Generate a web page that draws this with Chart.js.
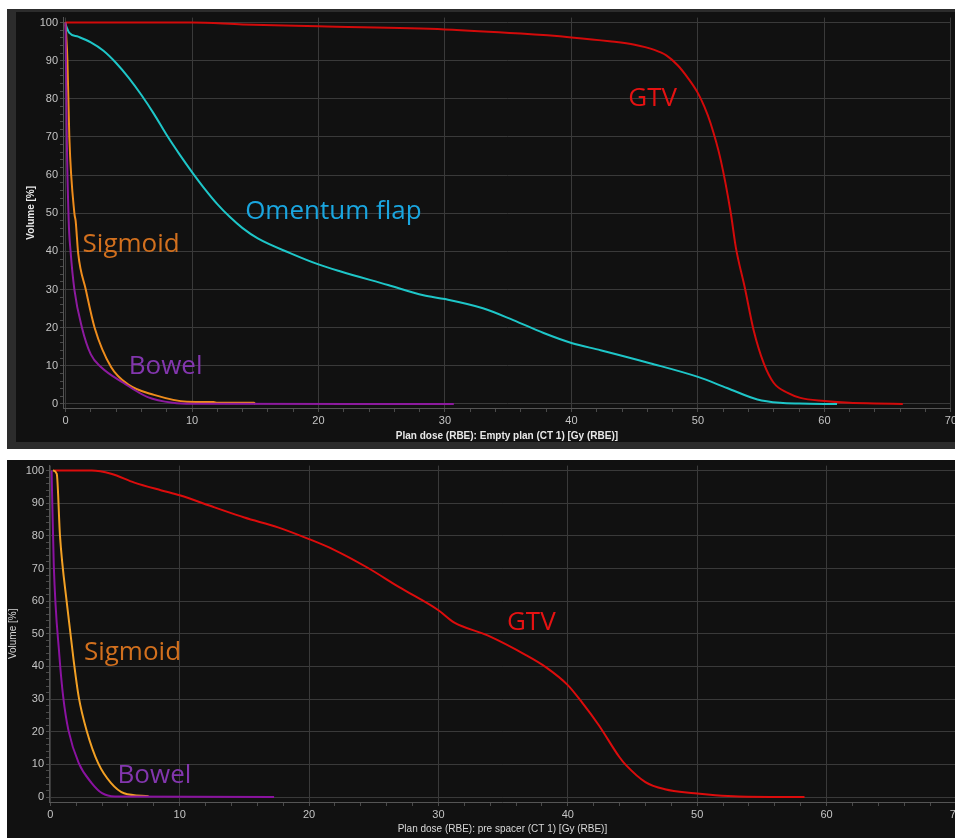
<!DOCTYPE html>
<html>
<head>
<meta charset="utf-8">
<script src="https://cdn.jsdelivr.net/npm/chart.js@4.4.0/dist/chart.umd.min.js"></script>
<style>
  html, body { margin: 0; padding: 0; background: #fff; width: 955px; height: 838px; overflow: hidden; }
  #topFrame { position: absolute; left: 7px; top: 9px; width: 948px; height: 440px; background: #2c2c2c; }
  #topWrap { position: absolute; left: 16px; top: 12px; width: 939px; height: 430px; background: #111; overflow: hidden; }
  #botWrap { position: absolute; left: 7px; top: 460px; width: 948px; height: 378px; background: #111; overflow: hidden; }
  canvas { display: block; margin-top: -3px; }
</style>
</head>
<body>
<div id="topFrame"></div>
<div id="topWrap"><canvas id="topChart" width="943" height="433"></canvas></div>
<div id="botWrap"><canvas id="botChart" width="957" height="381"></canvas></div>
<script>
// tick labels
const doseTicks = [0, 10, 20, 30, 40, 50, 60, 70];
const volumeTicks = [0, 10, 20, 30, 40, 50, 60, 70, 80, 90, 100];

// top plot: Empty plan
const topGtvDose = [0, 10, 14, 20, 30, 36, 40, 43, 45, 46.5, 47.5, 48.4, 49.2, 50, 50.5, 51, 51.8, 52.6, 53, 53.7, 54.4, 55.2, 56, 57.1, 58.1, 60, 62, 64, 66.2];
const topGtvVol = [100, 100, 99.5, 99, 98.2, 97.1, 96.1, 95.1, 94.2, 92.9, 91.4, 88.8, 85.5, 81.5, 78, 73.6, 64, 50, 41, 30.6, 19.4, 10.7, 5.5, 2.9, 1.6, 0.8, 0.3, 0.15, 0];

const topOmentumDose = [0, 0.3, 1, 2, 3, 4, 5, 6, 7, 8, 9, 10, 11, 12, 13, 14, 15.2, 17.8, 20, 21.7, 25.5, 28.3, 30, 33, 35.4, 37.8, 40, 42.3, 46.2, 50, 52.3, 54.7, 56.5, 58, 61];
const topOmentumVol = [99.5, 97.3, 96.3, 94.8, 92.6, 89.4, 85.5, 81, 76, 70.5, 65.5, 60.8, 56.4, 52.4, 49, 46.1, 43.4, 39.5, 36.6, 34.8, 31.2, 28.5, 27.5, 25.1, 22, 18.6, 16, 14.1, 10.7, 7.1, 4.2, 1.2, 0.3, 0.1, 0];

const topSigmoidDose = [0, 0.15, 0.3, 0.7, 0.8, 1.0, 1.6, 2.3, 3.6, 5, 7, 9.6, 11.7, 12, 14.9, 15];
const topSigmoidVol = [100, 90, 70, 50, 48, 39.5, 30, 20, 9.7, 5, 2.4, 0.6, 0.5, 0.3, 0.3, 0];

const topBowelDose = [0, 0.1, 0.25, 0.4, 0.7, 1.3, 2, 2.8, 4.6, 6.5, 8.5, 10, 30.7];
const topBowelVol = [100, 70, 48, 40, 30, 20, 13, 9.7, 5.5, 1.8, 0.3, 0.05, 0];

// bottom plot: pre spacer
const botGtvDose = [0.3, 3.2, 4.7, 6.5, 8.6, 10, 12.7, 15, 17.6, 20, 21.9, 24.5, 27, 30, 31.2, 33.8, 36.8, 38.3, 40, 41.1, 42.4, 44, 44.5, 46, 47.5, 49.8, 51.4, 53.2, 58.3];
const botGtvVol = [100, 100, 99, 96.3, 93.9, 92.4, 88.7, 85.6, 82.6, 79, 75.8, 70.3, 64.2, 57.2, 53.5, 49.5, 43.4, 39.8, 34.3, 29, 22, 12.2, 9.8, 4.6, 2.4, 1.2, 0.6, 0.2, 0];

const botSigmoidDose = [0.2, 0.5, 0.75, 1.3, 1.8, 2.2, 2.8, 3.7, 4.7, 5.7, 7.6];
const botSigmoidVol = [100, 99, 80, 58.7, 42, 30.6, 20.5, 10.4, 4.3, 1.2, 0.3];

const botBowelDose = [0.1, 0.27, 0.7, 1.0, 1.4, 2.2, 3.2, 4.0, 5, 17.3];
const botBowelVol = [100, 71, 43.4, 30.6, 20.5, 10.4, 4.3, 1.2, 0.2, 0];

const GRID = '#3a3a3a';
const MINOR = '#4a4a4a';
const TICK_TXT = '#c4c4c4';

const pts = (dose, vol) => dose.map((d, i) => ({ x: d, y: vol[i] }));

const withMinor = (major, step) => {
  const out = [];
  for (let v = major[0]; v <= major[major.length - 1]; v += step) out.push({ value: v });
  return out;
};

const isMajor = (ctx) => ctx.tick && ctx.tick.value % 10 === 0;

// curve names drawn at data coordinates
const curveLabels = (labels) => ({
  id: 'curveLabels',
  afterDatasetsDraw(chart) {
    const { ctx, scales } = chart;
    ctx.save();
    ctx.font = '26px "Open Sans", "Noto Sans", sans-serif';
    ctx.textAlign = 'left';
    ctx.textBaseline = 'middle';
    labels.forEach((l) => {
      ctx.fillStyle = l.color;
      ctx.fillText(l.text, scales.x.getPixelForValue(l.x), scales.y.getPixelForValue(l.y));
    });
    ctx.restore();
  },
});

const makeChart = (id, cfg) => {
  return new Chart(document.getElementById(id), {
    type: 'line',
    data: {
      datasets: cfg.series.map((s) => ({
        data: pts(s.dose, s.vol),
        borderColor: s.color,
        borderWidth: 2,
        pointRadius: 0,
        fill: false,
        cubicInterpolationMode: 'monotone',
      })),
    },
    options: {
      responsive: false,
      animation: false,
      events: [],
      layout: { padding: cfg.padding },
      plugins: { legend: { display: false }, tooltip: { enabled: false } },
      scales: {
        x: {
          type: 'linear',
          min: cfg.xMin,
          max: 70,
          afterBuildTicks: (s) => { s.ticks = withMinor(doseTicks, 2); },
          afterFit: (s) => { s.height = cfg.xAxisHeight; },
          grid: {
            color: (c) => (isMajor(c) ? GRID : 'rgba(0,0,0,0)'),
            tickColor: MINOR,
            tickLength: 4,
          },
          border: { color: '#555' },
          ticks: {
            autoSkip: false,
            maxRotation: 0,
            padding: 2,
            color: TICK_TXT,
            font: { family: 'Liberation Sans', size: 11 },
            callback: (v) => (v % 10 === 0 ? v : ''),
          },
          title: {
            display: true,
            text: cfg.xTitle,
            color: cfg.titleColor,
            font: { family: 'Liberation Sans', size: 10, weight: cfg.titleWeight },
            padding: { top: 0, bottom: cfg.xTitlePad },
          },
        },
        y: {
          min: cfg.yMin,
          max: cfg.yMax,
          afterBuildTicks: (s) => { s.ticks = withMinor(volumeTicks, 2); },
          afterFit: (s) => { s.width = cfg.yAxisWidth; },
          grid: {
            color: (c) => (isMajor(c) ? GRID : 'rgba(0,0,0,0)'),
            tickColor: MINOR,
            tickLength: 3,
          },
          border: { color: '#555' },
          ticks: {
            autoSkip: false,
            padding: 2,
            color: TICK_TXT,
            font: { family: 'Liberation Sans', size: 11 },
            callback: (v) => (v % 10 === 0 ? v : ''),
          },
          title: {
            display: true,
            text: 'Volume [%]',
            color: cfg.titleColor,
            font: { family: 'Liberation Sans', size: 10, weight: cfg.titleWeight },
            padding: { top: cfg.yTitlePad, bottom: 0 },
          },
        },
      },
    },
    plugins: [curveLabels(cfg.labels)],
  });
};

makeChart('topChart', {
  series: [
    { dose: topBowelDose, vol: topBowelVol, color: '#8c1a9e' },
    { dose: topSigmoidDose, vol: topSigmoidVol, color: '#ee8c1c' },
    { dose: topOmentumDose, vol: topOmentumVol, color: '#1ec6c8' },
    { dose: topGtvDose, vol: topGtvVol, color: '#d20a0a' },
  ],
  labels: [
    { text: 'GTV', x: 44.5, y: 80, color: '#e61212' },
    { text: 'Omentum flap', x: 14.2, y: 50.5, color: '#1aa6e0' },
    { text: 'Sigmoid', x: 1.35, y: 41.9, color: '#d2701e' },
    { text: 'Bowel', x: 5.0, y: 9.7, color: '#8336ae' },
  ],
  xMin: -0.2,
  yMin: -1.05,
  yMax: 101.3,
  padding: { top: 5, right: 5, left: 0, bottom: 0 },
  xAxisHeight: 34,
  yAxisWidth: 47,
  xTitle: 'Plan dose (RBE): Empty plan (CT 1) [Gy (RBE)]',
  xTitlePad: 0,
  yTitlePad: 9,
  titleColor: '#e8e8e8',
  titleWeight: 'bold',
});

makeChart('botChart', {
  series: [
    { dose: botBowelDose, vol: botBowelVol, color: '#8a12a0' },
    { dose: botSigmoidDose, vol: botSigmoidVol, color: '#f2a024' },
    { dose: botGtvDose, vol: botGtvVol, color: '#dc0c0c' },
  ],
  labels: [
    { text: 'GTV', x: 35.3, y: 53.4, color: '#e61212' },
    { text: 'Sigmoid', x: 2.6, y: 44.2, color: '#d2701e' },
    { text: 'Bowel', x: 5.2, y: 6.7, color: '#8336ae' },
  ],
  xMin: -0.1,
  yMin: -1.5,
  yMax: 101.5,
  padding: { top: 4, right: 0, left: 0, bottom: 0 },
  xAxisHeight: 36,
  yAxisWidth: 42,
  xTitle: 'Plan dose (RBE): pre spacer (CT 1) [Gy (RBE)]',
  xTitlePad: 3,
  yTitlePad: 0,
  titleColor: '#d8d8d8',
  titleWeight: 'normal',
});
</script>
</body>
</html>
